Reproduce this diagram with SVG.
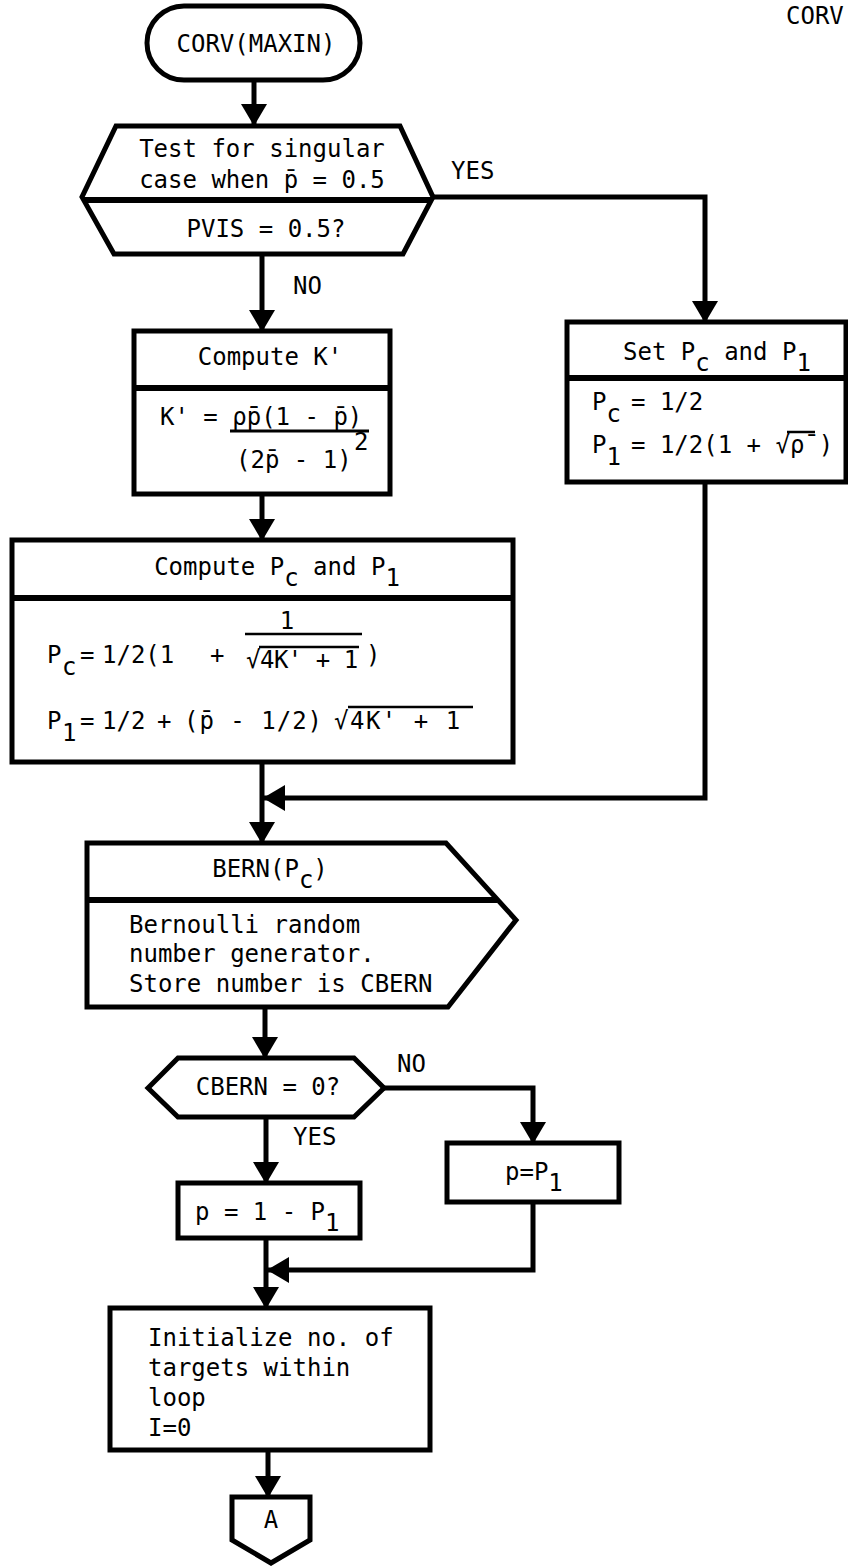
<svg xmlns="http://www.w3.org/2000/svg" width="848" height="1566" viewBox="0 0 848 1566">
  <defs>
    <style>
      .bx { fill: #fff; stroke: #000; stroke-width: 5; stroke-linejoin: miter; }
      .ln { fill: none; stroke: #000; stroke-width: 5; }
      .dv { fill: none; stroke: #000; stroke-width: 6; }
      .bar { fill: none; stroke: #000; stroke-width: 2.5; }
      text { font-family: "DejaVu Sans Mono", "Liberation Mono", monospace; font-size: 24px; fill: #000; }
      .mid { text-anchor: middle; }
    </style>
    <marker id="arrow" markerUnits="userSpaceOnUse" markerWidth="24" markerHeight="26" viewBox="0 0 22 26" refX="21" refY="13" orient="auto">
      <path d="M0,0 L22,13 L0,26 z" fill="#000"/>
    </marker>
  </defs>

  <rect width="848" height="1566" fill="#fff"/>

  <!-- page tag -->
  <text x="786" y="24">CORV</text>

  <!-- connectors -->
  <g id="connectors">
    <path class="ln" d="M254,80 V125" marker-end="url(#arrow)"/>
    <path class="ln" d="M262,254 V331" marker-end="url(#arrow)"/>
    <path class="ln" d="M434,197 H705 V322" marker-end="url(#arrow)"/>
    <path class="ln" d="M262,494 V540" marker-end="url(#arrow)"/>
    <path class="ln" d="M262,762 V843" marker-end="url(#arrow)"/>
    <path class="ln" d="M705,482 V798 H264" marker-end="url(#arrow)"/>
    <path class="ln" d="M265,1007 V1058" marker-end="url(#arrow)"/>
    <path class="ln" d="M384,1088 H533 V1143" marker-end="url(#arrow)"/>
    <path class="ln" d="M266,1117 V1183" marker-end="url(#arrow)"/>
    <path class="ln" d="M533,1202 V1270 H268" marker-end="url(#arrow)"/>
    <path class="ln" d="M266,1238 V1308" marker-end="url(#arrow)"/>
    <path class="ln" d="M268,1450 V1497" marker-end="url(#arrow)"/>
    <text x="451" y="179">YES</text>
    <text x="293" y="294">NO</text>
    <text x="397" y="1072">NO</text>
    <text x="293" y="1145">YES</text>
  </g>

  <!-- start terminal -->
  <g id="start">
    <rect class="bx" x="147" y="6" width="213" height="74" rx="37" ry="37"/>
    <text class="mid" x="256" y="52">CORV(MAXIN)</text>
  </g>

  <!-- singular-case test -->
  <g id="test-singular">
    <polygon class="bx" points="116,126 400,126 433,197 403,254 114,254 82,197"/>
    <line class="dv" x1="84" y1="200" x2="431" y2="200"/>
    <text class="mid" x="262" y="157">Test for singular</text>
    <text class="mid" x="262" y="188">case when p̄ = 0.5</text>
    <text class="mid" x="266" y="237">PVIS = 0.5?</text>
  </g>

  <!-- compute K' -->
  <g id="compute-k">
    <rect class="bx" x="134" y="331" width="256" height="163"/>
    <line class="dv" x1="134" y1="388" x2="390" y2="388"/>
    <text class="mid" x="270" y="365">Compute K'</text>
    <text x="160" y="425">K' = ρ̄p̄(1 - p̄)</text>
    <line class="bar" x1="230" y1="431" x2="369" y2="431" style="stroke-width:3"/>
    <text x="236" y="468">(2p̄ - 1)</text>
    <text x="354" y="450">2</text>
  </g>

  <!-- set Pc and P1 (singular case) -->
  <g id="set-pc">
    <rect class="bx" x="567" y="322" width="279" height="160"/>
    <line class="dv" x1="567" y1="378" x2="846" y2="378"/>
    <text x="623" y="360">Set P<tspan dy="11">c</tspan><tspan dy="-11"> and P</tspan><tspan dy="11">1</tspan></text>
    <text x="592" y="410">P<tspan dy="12">c</tspan><tspan x="631" dy="-12">= 1/2</tspan></text>
    <text x="592" y="453">P<tspan dy="12">1</tspan><tspan x="631" dy="-12">= 1/2(1 + √ρ̄ )</tspan></text>
    <line class="bar" x1="787" y1="432" x2="815" y2="432"/>
  </g>

  <!-- compute Pc and P1 -->
  <g id="compute-pc">
    <rect class="bx" x="12" y="540" width="501" height="222"/>
    <line class="dv" x1="12" y1="598" x2="513" y2="598"/>
    <text class="mid" x="277" y="575">Compute P<tspan dy="11">c</tspan><tspan dy="-11"> and P</tspan><tspan dy="11">1</tspan></text>
    <text x="47" y="663">P<tspan x="62" dy="12">c</tspan><tspan x="80" dy="-12">=</tspan><tspan x="102">1/2(1</tspan><tspan x="210">+</tspan><tspan x="366">)</tspan></text>
    <text x="287" y="629" class="mid">1</text>
    <line class="bar" x1="245" y1="634" x2="362" y2="634"/>
    <text x="246" y="668" letter-spacing="-0.5">√4K' + 1</text>
    <line class="bar" x1="259" y1="647" x2="359" y2="647"/>
    <text x="47" y="729">P<tspan x="62" dy="12">1</tspan><tspan x="80" dy="-12">=</tspan><tspan x="102">1/2</tspan><tspan x="157">+</tspan><tspan x="184" letter-spacing="1">(p̄ - 1/2)</tspan><tspan x="334" letter-spacing="1.5">√4K' + 1</tspan></text>
    <line class="bar" x1="348" y1="707" x2="473" y2="707"/>
  </g>

  <!-- Bernoulli draw -->
  <g id="bern">
    <polygon class="bx" points="87,843 446,843 516,920 448,1007 87,1007"/>
    <line class="dv" x1="87" y1="900" x2="497" y2="900"/>
    <text class="mid" x="270" y="877">BERN(P<tspan dy="11">c</tspan><tspan dy="-11">)</tspan></text>
    <text x="129" y="933">Bernoulli random</text>
    <text x="129" y="962">number generator.</text>
    <text x="129" y="992">Store number is CBERN</text>
  </g>

  <!-- CBERN test -->
  <g id="test-cbern">
    <polygon class="bx" points="148,1088 178,1058 354,1058 384,1088 354,1117 178,1117"/>
    <text class="mid" x="268" y="1095">CBERN = 0?</text>
  </g>

  <!-- p = 1 - P1 -->
  <g id="p-yes">
    <rect class="bx" x="178" y="1183" width="182" height="55"/>
    <text x="195" y="1220">p = 1 - P<tspan dy="11">1</tspan></text>
  </g>

  <!-- p = P1 -->
  <g id="p-no">
    <rect class="bx" x="447" y="1143" width="172" height="59"/>
    <text x="505" y="1180">p=P<tspan dy="11">1</tspan></text>
  </g>

  <!-- initialise loop counter -->
  <g id="init">
    <rect class="bx" x="110" y="1308" width="320" height="142"/>
    <text x="148" y="1346">Initialize no. of</text>
    <text x="148" y="1376">targets within</text>
    <text x="148" y="1406">loop</text>
    <text x="148" y="1436">I=0</text>
  </g>

  <!-- off-page connector A -->
  <g id="conn-a">
    <polygon class="bx" points="232,1497 310,1497 310,1540 271,1563 232,1540"/>
    <text class="mid" x="271" y="1528">A</text>
  </g>
</svg>
